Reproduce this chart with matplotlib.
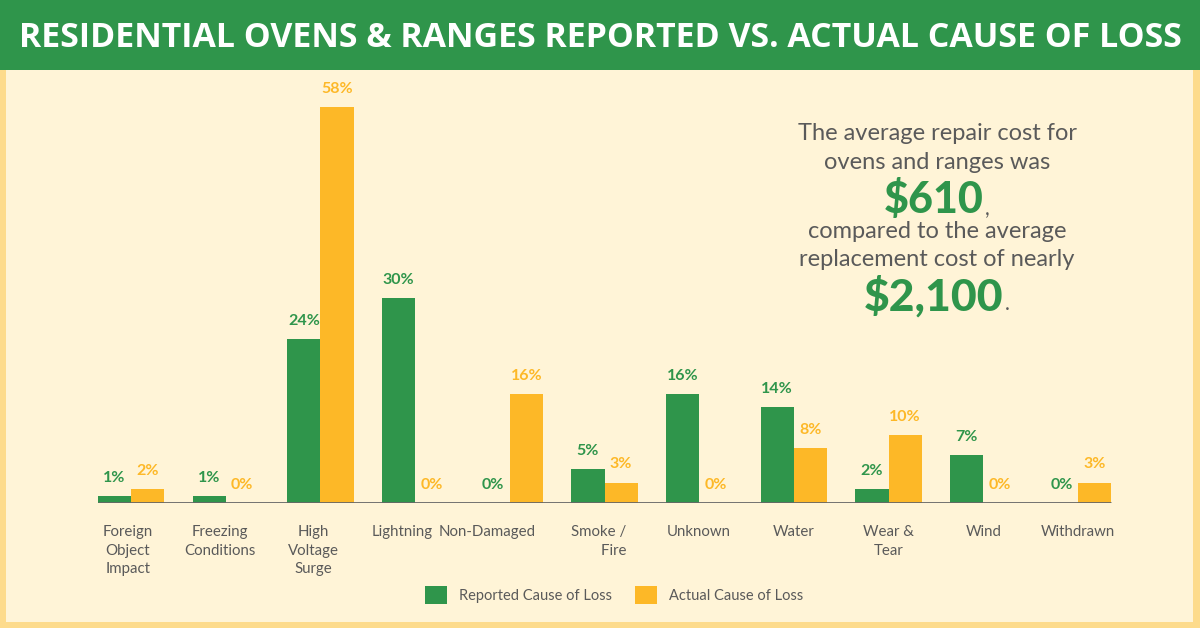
import matplotlib
matplotlib.use("Agg")
import matplotlib.pyplot as plt
import matplotlib.transforms as mtransforms
from matplotlib.patches import Rectangle, Patch
import numpy as np

categories = ["Foreign\nObject\nImpact", "Freezing\nConditions", "High\nVoltage\nSurge",
              "Lightning", "Non-Damaged", "Smoke /   \nFire   ", "Unknown", "Water",
              "Wear &\nTear", "Wind", "Withdrawn"]
reported = [1, 1, 24, 30, 0, 5, 16, 14, 2, 7, 0]
actual = [2, 0, 58, 0, 16, 3, 0, 8, 10, 0, 3]

GREEN = "#2F954B"
ORANGE = "#FDB827"
CREAM = "#FFF4D7"
BORDER = "#FDDB8C"
GRAY = "#5A5A5A"

W, H = 1200, 628
fig = plt.figure(figsize=(12, 6.28), dpi=100)
fig.patch.set_facecolor(BORDER)

# cream panel and green title band
fig.patches.append(Rectangle((6 / W, 6 / H), 1187 / W, 1 - 6 / H, transform=fig.transFigure,
                             facecolor=CREAM, edgecolor="none", zorder=-2))
fig.patches.append(Rectangle((0, 1 - 70 / H), 1, 70 / H, transform=fig.transFigure,
                             facecolor=GREEN, edgecolor="none", zorder=-1))
fig.text(0.5, 1 - 38 / H, "RESIDENTIAL OVENS & RANGES REPORTED VS. ACTUAL CAUSE OF LOSS",
         ha="center", va="center", color="white", fontsize=24.4, fontweight="bold",
         family="Open Sans")

# axes: category spacing ~94.7px, baseline at y=503
step = 94.7
left = 131 - 0.5 * step
ax = fig.add_axes([left / W, (H - 503) / H, 11 * step / W, 410 / H])
ax.set_zorder(2)
ax.set_facecolor("none")
ax.set_xlim(-0.5, 10.5)
ax.set_ylim(0, 60)

x = np.arange(len(categories))
bw = 0.35
b1 = ax.bar(x - bw / 2, reported, bw, color=GREEN, zorder=2)
b2 = ax.bar(x + bw / 2, actual, bw, color=ORANGE, zorder=2)
for bars, vals, col in [(b1, reported, GREEN), (b2, actual, ORANGE)]:
    for r, v in zip(bars, vals):
        ax.annotate(f"{v}%", (r.get_x() + r.get_width() / 2, v), xytext=(0, 8),
                    textcoords="offset points", ha="center", va="bottom",
                    color=col, fontsize=11.5, fontweight="bold", family="Lato")

ax.plot([-bw, 10 + bw], [0, 0], color="#666666", lw=2, zorder=3, solid_capstyle="butt")

for s in ax.spines.values():
    s.set_visible(False)
ax.set_yticks([])
ax.set_xticks(x)
ax.set_xticklabels(categories, fontsize=10.8, color=GRAY, family="Lato", linespacing=1.4)
ax.tick_params(axis="x", length=0, pad=16)

nudges = {0: -3, 1: -6, 2: -7, 3: -13, 4: -23}
for i, lab in enumerate(ax.get_xticklabels()):
    if i == 5:
        lab.set_multialignment("right")
    if i in nudges:
        lab.set_transform(lab.get_transform() +
                          mtransforms.ScaledTranslation(nudges[i] / 100, 0, fig.dpi_scale_trans))

handles = [Patch(facecolor=GREEN, label="Reported Cause of Loss"),
           Patch(facecolor=ORANGE, label="Actual Cause of Loss")]
leg = fig.legend(handles=handles, loc="center", bbox_to_anchor=(614 / W, (H - 595) / H),
                 ncol=2, frameon=False, handlelength=1.5, handleheight=1.5,
                 handletextpad=0.8, columnspacing=1.6, prop={"family": "Lato", "size": 10.5})
for t in leg.get_texts():
    t.set_color(GRAY)

# callout text
cx = 937 / W
lines = [("The average repair cost for", 133),
         ("ovens and ranges was", 162),
         ("compared to the average", 232),
         ("replacement cost of nearly", 259)]
for txt, yy in lines:
    fig.text(cx, 1 - yy / H, txt, ha="center", va="center", fontsize=17, color=GRAY,
             family="Lato")
fig.text(cx - 3 / W, 1 - 200 / H, "$610", ha="center", va="center", fontsize=31, color=GREEN,
         fontweight="black", family="Lato")
fig.text(985 / W, 1 - 209 / H, ",", ha="left", va="center", fontsize=15, color=GRAY, family="Lato")
fig.text(cx - 3 / W, 1 - 296 / H, "$2,100", ha="center", va="center", fontsize=32, color=GREEN,
         fontweight="black", family="Lato")
fig.text(1005 / W, 1 - 304 / H, ".", ha="left", va="center", fontsize=15, color=GRAY, family="Lato")

fig.savefig("out.png", dpi=100, facecolor=fig.get_facecolor())
